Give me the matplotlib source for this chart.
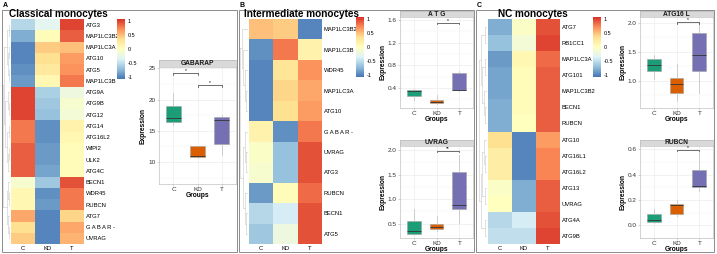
import numpy as np
import matplotlib
matplotlib.use("Agg")
import matplotlib.pyplot as plt
from matplotlib.patches import Rectangle
from matplotlib.colors import LinearSegmentedColormap

plt.rcParams['font.family'] = ['Liberation Sans', 'DejaVu Sans']

groups = ['C', 'KD', 'T']
box_colors = ['#1B9E77', '#D95F02', '#7570B3']
heat_cmap = LinearSegmentedColormap.from_list(
    'rdylbu7', ['#4575B4', '#91BFDB', '#E0F3F8', '#FFFFBF', '#FEE090', '#FC8D59', '#D73027'])

# ---- heatmap data (row-scaled expression) ----
genes_a = ['ATG3', 'MAP1LC3B2', 'MAP1LC3A', 'ATG10', 'ATG5', 'MAP1LC3B', 'ATG9A', 'ATG9B',
           'ATG12', 'ATG14', 'ATG16L2', 'WIPI2', 'ULK2', 'ATG4C', 'BECN1', 'WDR45', 'RUBCN',
           'ATG7', 'G A B A R -', 'UVRAG']
vals_a = [[-0.55, -0.3, 1.0], [-0.8, 0.05, 0.9], [-1.0, 0.45, 0.5], [-1.0, 0.35, 0.65],
          [-0.95, 0.25, 0.7], [-0.9, 0.1, 0.8], [1.0, -0.6, -0.2], [1.0, -0.65, -0.1],
          [1.0, -0.7, -0.15], [0.8, -0.95, 0.15], [0.8, -0.95, 0.1], [0.9, -0.9, 0.05],
          [0.9, -0.9, 0.05], [0.9, -0.85, 0.05], [-0.1, -0.65, 0.95], [0.1, -0.95, 0.8],
          [0.1, -0.9, 0.8], [0.6, -1.0, 0.4], [0.35, -1.0, 0.6], [0.45, -1.0, 0.55]]
tree_a = ((((0, 1), ((2, 3), (4, 5))), ((6, (7, 8)), ((9, 10), ((11, 12), 13)))),
          ((14, (15, 16)), (17, (18, 19))))

genes_b = ['MAP1LC3B2', 'MAP1LC3B', 'WDR45', 'MAP1LC3A', 'ATG10', 'G A B A R -', 'UVRAG',
           'ATG3', 'RUBCN', 'BECN1', 'ATG5']
vals_b = [[0.5, 0.45, -1.0], [-0.95, 0.8, 0.15], [-1.0, 0.3, 0.7], [-1.0, 0.4, 0.6],
          [-1.0, 0.35, 0.65], [0.15, -0.95, 0.8], [-0.05, -0.7, 0.95], [-0.1, -0.7, 0.95],
          [-0.9, 0.05, 0.85], [-0.55, -0.4, 0.95], [-0.65, -0.2, 0.95]]
tree_b = ((0, (1, (2, (3, 4)))), ((5, (6, 7)), (8, (9, 10))))

genes_c = ['ATG7', 'RB1CC1', 'MAP1LC3A', 'ATG101', 'MAP1LC3B2', 'BECN1', 'RUBCN', 'ATG10',
           'ATG16L1', 'ATG16L2', 'ATG13', 'UVRAG', 'ATG4A', 'ATG9B']
vals_c = [[-0.8, -0.05, 0.95], [-0.7, -0.15, 1.0], [-0.9, 0.1, 0.85], [-0.85, 0.05, 0.9],
          [-0.85, 0.05, 0.9], [-0.8, 0.05, 0.9], [-0.8, 0.0, 0.9], [0.35, -1.0, 0.65],
          [0.2, -1.0, 0.75], [0.2, -1.0, 0.75], [-0.05, -0.8, 0.9], [0.0, -0.8, 0.9],
          [-0.55, -0.4, 0.95], [-0.5, -0.5, 1.0]]
tree_c = (((0, 1), ((2, 3), (4, (5, 6)))), (((7, (8, 9)), (10, 11)), (12, 13)))

# ---- boxplot data: q1, median, q3, whisker low, whisker high (C, KD, T) ----
gabarap_q1 = [16.4, 10.75, 12.9]
gabarap_med = [17.1, 10.9, 16.8]
gabarap_q3 = [19.0, 12.55, 17.2]
gabarap_lo = [16.0, 10.7, 11.1]
gabarap_hi = [21.1, 12.6, 17.5]

atg_q1 = [0.26, 0.13, 0.36]
atg_med = [0.35, 0.16, 0.37]
atg_q3 = [0.36, 0.19, 0.67]
atg_lo = [0.19, 0.12, 0.35]
atg_hi = [0.38, 0.27, 0.70]

uvrag_q1 = [0.30, 0.39, 0.79]
uvrag_med = [0.35, 0.44, 0.89]
uvrag_q3 = [0.56, 0.49, 1.55]
uvrag_lo = [0.28, 0.35, 0.52]
uvrag_hi = [0.80, 0.65, 1.90]

atg16l_q1 = [1.17, 0.80, 1.18]
atg16l_med = [1.28, 0.95, 1.45]
atg16l_q3 = [1.38, 1.05, 1.82]
atg16l_lo = [1.03, 0.66, 0.80]
atg16l_hi = [1.45, 1.30, 2.00]

rubcn_q1 = [0.03, 0.09, 0.30]
rubcn_med = [0.045, 0.16, 0.31]
rubcn_q3 = [0.09, 0.17, 0.44]
rubcn_lo = [0.02, 0.07, 0.27]
rubcn_hi = [0.13, 0.20, 0.58]

W, H = 717, 254
fig = plt.figure(figsize=(7.17, 2.54), dpi=100)


def box(x0, y0, x1, y1):
    return fig.add_axes([x0 / W, 1 - y1 / H, (x1 - x0) / W, (y1 - y0) / H])


def frame(x0, y0, x1, y1, letter):
    fig.add_artist(Rectangle((x0 / W, 1 - y1 / H), (x1 - x0) / W, (y1 - y0) / H,
                             transform=fig.transFigure, fill=False, ec='#8c8c8c', lw=0.7))
    fig.text((x0 + 1) / W, 1 - 5.5 / H, letter, fontsize=5, weight='bold', va='center')


def dendro(ax, node):
    if isinstance(node, int):
        return node + 0.5, 0
    pts = [dendro(ax, c) for c in node]
    h = max(p[1] for p in pts) + 1
    for y, hc in pts:
        ax.plot([hc, h], [y, y], color='#d0d0d0', lw=0.45)
    ax.plot([h, h], [pts[0][0], pts[-1][0]], color='#d0d0d0', lw=0.45)
    return np.mean([p[0] for p in pts]), h


def heatmap(rect, dend_rect, cbar_rect, genes, vals, tree, title, title_x):
    ax = box(*rect)
    m = ax.pcolormesh(np.array(vals), cmap=heat_cmap, vmin=-1.08, vmax=1.08,
                      edgecolors='none', linewidth=0)
    ax.set_xlim(0, 3)
    ax.set_ylim(len(genes), 0)
    ax.set_yticks(np.arange(len(genes)) + 0.5, genes)
    ax.yaxis.tick_right()
    ax.set_xticks(np.arange(3) + 0.5, groups)
    ax.tick_params(length=0, labelsize=4.2, pad=1.2)
    for s in ax.spines.values():
        s.set_visible(False)
    dax = box(*dend_rect)
    _, hmax = dendro(dax, tree)
    dax.set_xlim(hmax + 0.1, 0)
    dax.set_ylim(len(genes), 0)
    dax.axis('off')
    cax = box(*cbar_rect)
    cb = fig.colorbar(m, cax=cax, ticks=[-1, -0.5, 0, 0.5, 1])
    cb.set_ticklabels(['-1', '-0.5', '0', '0.5', '1'])
    cb.outline.set_visible(False)
    cax.tick_params(length=0, labelsize=4, pad=2)
    fig.text(title_x / W, 1 - 14 / H, title, fontsize=7.2, weight='bold', va='center')


def boxpanel(strip_rect, plot_rect, title, q1, med, q3, lo, hi, ylim, yticks, brackets):
    st = box(*strip_rect)
    st.set_facecolor('#d9d9d9')
    st.set_xticks([])
    st.set_yticks([])
    for s in st.spines.values():
        s.set_color('#b3b3b3')
        s.set_linewidth(0.4)
    st.text(0.5, 0.5, title, ha='center', va='center', fontsize=4.8, weight='bold',
            color='#1a1a1a', transform=st.transAxes)
    ax = box(*plot_rect)
    stats = [dict(q1=q1[i], med=med[i], q3=q3[i], whislo=lo[i], whishi=hi[i], fliers=[])
             for i in range(3)]
    bp = ax.bxp(stats, positions=[1, 2, 3], widths=0.6, patch_artist=True, showcaps=False,
                whiskerprops=dict(color='#bdbdbd', lw=0.5),
                medianprops=dict(color='#333333', lw=0.6),
                boxprops=dict(lw=0.4))
    for patch, c in zip(bp['boxes'], box_colors):
        patch.set_facecolor(c)
        patch.set_edgecolor('#a0a0a0')
    ax.set_xlim(0.4, 3.6)
    ax.set_ylim(*ylim)
    ax.set_yticks(yticks)
    step = yticks[1] - yticks[0]
    ax.set_yticks(np.arange(yticks[0] - step / 2, ylim[1], step), minor=True)
    ax.set_xticks([1, 2, 3], groups)
    ax.grid(True, which='major', color='#ebebeb', lw=0.45)
    ax.grid(True, which='minor', axis='y', color='#f5f5f5', lw=0.3)
    ax.set_axisbelow(True)
    ax.tick_params(labelsize=4.6, length=1.5, width=0.4, color='#b3b3b3', pad=1,
                   labelcolor='#333333')
    ax.tick_params(which='minor', length=0)
    for s in ax.spines.values():
        s.set_color('#b3b3b3')
        s.set_linewidth(0.4)
    ax.set_xlabel('Groups', fontsize=4.8, weight='bold', labelpad=0)
    ax.set_ylabel('Expression', fontsize=4.8, weight='bold', labelpad=1)
    d = (ylim[1] - ylim[0]) * 0.015
    for i, j, y, lab in brackets:
        ax.plot([i, i, j, j], [y - d, y, y, y - d], color='#333333', lw=0.5)
        ax.text((i + j) / 2, y, lab, ha='center', va='bottom', fontsize=3.5)


# panel A
frame(2, 10, 237, 252, 'A')
heatmap((11, 19, 84, 244), (3, 19, 10, 244), (117, 19, 125, 79), genes_a, vals_a, tree_a,
        'Classical monocytes', 9)
boxpanel((159, 60, 236, 67), (159, 67, 236, 184), 'GABARAP',
         gabarap_q1, gabarap_med, gabarap_q3, gabarap_lo, gabarap_hi,
         (6.5, 25.2), [10, 15, 20, 25], [(1, 2, 24.2, '*'), (2, 3, 22.3, '*')])

# panel B
frame(239, 10, 474, 252, 'B')
heatmap((249, 19, 322, 244), (240, 19, 248, 244), (356, 17, 364, 77), genes_b, vals_b, tree_b,
        'Intermediate monocytes', 244)
boxpanel((400, 11, 473, 17), (400, 17, 473, 108), 'A T G',
         atg_q1, atg_med, atg_q3, atg_lo, atg_hi,
         (0.047, 1.653), [0.4, 0.8, 1.2, 1.6], [(2, 3, 1.55, '*')])
boxpanel((400, 140, 473, 146), (400, 146, 473, 238), 'UVRAG',
         uvrag_q1, uvrag_med, uvrag_q3, uvrag_lo, uvrag_hi,
         (0.21, 2.08), [0.5, 1.0, 1.5, 2.0], [(2, 3, 1.98, '**')])

# panel C
frame(476, 10, 714, 252, 'C')
heatmap((488, 19, 560, 244), (479, 19, 487, 244), (593, 17, 601, 77), genes_c, vals_c, tree_c,
        'NC monocytes', 498)
boxpanel((640, 11, 713, 17), (640, 17, 713, 108), 'ATG16 L',
         atg16l_q1, atg16l_med, atg16l_q3, atg16l_lo, atg16l_hi,
         (0.534, 2.103), [1.0, 1.5, 2.0], [(2, 3, 2.01, '*')])
boxpanel((640, 140, 713, 146), (640, 146, 713, 238), 'RUBCN',
         rubcn_q1, rubcn_med, rubcn_q3, rubcn_lo, rubcn_hi,
         (-0.01, 0.627), [0.0, 0.2, 0.4, 0.6], [(2, 3, 0.595, '*')])

fig.savefig('out.png', dpi=100)
